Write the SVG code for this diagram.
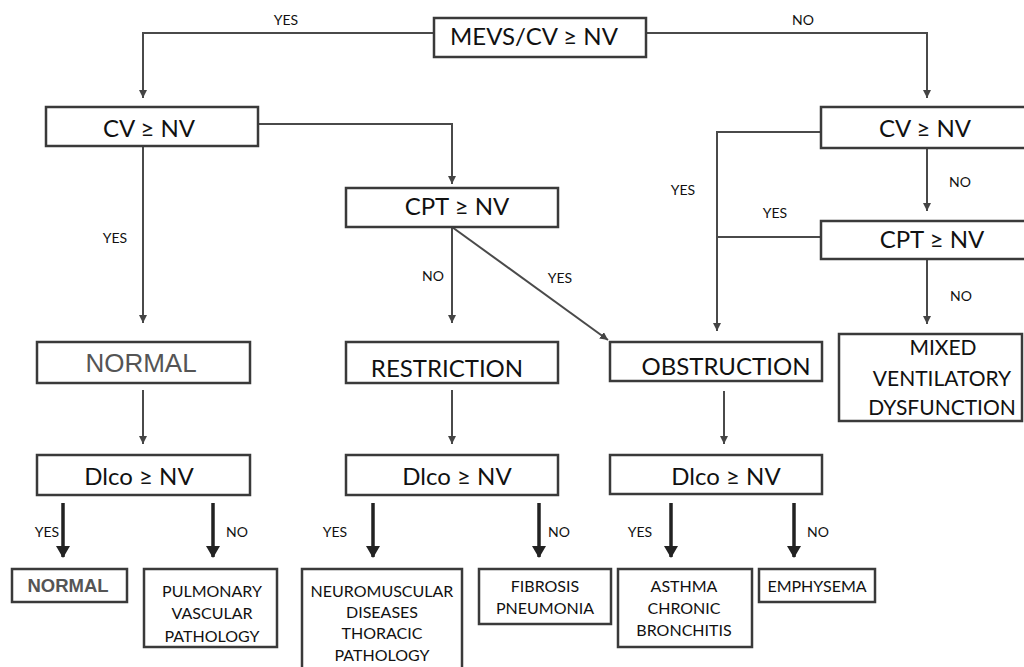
<svg xmlns="http://www.w3.org/2000/svg" width="1024" height="667" viewBox="0 0 1024 667">
<defs>
<marker id="ah" markerUnits="userSpaceOnUse" markerWidth="9" markerHeight="8" refX="8" refY="4" orient="auto"><path d="M0,0 L8,4 L0,8 z" fill="#444"/></marker>
<marker id="ahb" markerUnits="userSpaceOnUse" markerWidth="12" markerHeight="14" refX="11" refY="7" orient="auto"><path d="M0,0 L12,7 L0,14 z" fill="#222"/></marker>
<style>
.box{fill:#fff;stroke:#3a3a3a;stroke-width:2.5}
.ln{fill:none;stroke:#4a4a4a;stroke-width:2}
.arr{marker-end:url(#ah)}
.thick{fill:none;stroke:#222;stroke-width:3.5;marker-end:url(#ahb)}
.t{font-family:Lato,"Open Sans",sans-serif;fill:#111;text-anchor:middle}
.big{font-size:24px}
.sm{font-size:14px}
.bl{font-size:16px}
.ar{font-family:"Liberation Sans",Arial,sans-serif;fill:#555;text-anchor:middle}
</style>
</defs>
<rect width="1024" height="667" fill="#fff"/>
<g id="connectors">
<path class="ln arr" d="M434,33 H143 V98"/>
<path class="ln arr" d="M646,33 H927 V98"/>
<path class="ln arr" d="M143,146 V323"/>
<path class="ln arr" d="M258,124 H452 V184"/>
<path class="ln arr" d="M452,227 V323"/>
<path class="ln arr" d="M452,227 L608,340"/>
<path class="ln arr" d="M821,132 H717 V331"/>
<path class="ln" d="M821,237 H717"/>
<path class="ln arr" d="M927,148 V211"/>
<path class="ln arr" d="M927,259 V324"/>
<path class="ln arr" d="M143,390 V444"/>
<path class="ln arr" d="M452,390 V444"/>
<path class="ln arr" d="M724,391 V444"/>
<path class="thick" d="M63,503 V557"/>
<path class="thick" d="M213,503 V557"/>
<path class="thick" d="M373,503 V557"/>
<path class="thick" d="M539,503 V557"/>
<path class="thick" d="M671,503 V557"/>
<path class="thick" d="M794,503 V557"/>
<text class="t sm" x="286" y="25">YES</text>
<text class="t sm" x="803" y="25">NO</text>
<text class="t sm" x="115" y="243">YES</text>
<text class="t sm" x="433" y="281">NO</text>
<text class="t sm" x="560" y="283">YES</text>
<text class="t sm" x="683" y="195">YES</text>
<text class="t sm" x="775" y="218">YES</text>
<text class="t sm" x="960" y="187">NO</text>
<text class="t sm" x="961" y="301">NO</text>
<text class="t sm" x="47" y="537">YES</text>
<text class="t sm" x="237" y="537">NO</text>
<text class="t sm" x="335" y="537">YES</text>
<text class="t sm" x="559" y="537">NO</text>
<text class="t sm" x="640" y="537">YES</text>
<text class="t sm" x="818" y="537">NO</text>
</g>
<g id="n-mevs"><rect class="box" x="434" y="18" width="212" height="39"/><text class="t big" x="534" y="45">MEVS/CV ≥ NV</text></g>
<g id="n-cv-left"><rect class="box" x="46" y="107" width="212" height="39"/><text class="t big" x="149" y="137">CV ≥ NV</text></g>
<g id="n-cv-right"><rect class="box" x="821" y="107" width="215" height="41"/><text class="t big" x="925" y="137">CV ≥ NV</text></g>
<g id="n-cpt-mid"><rect class="box" x="346" y="188" width="212" height="39"/><text class="t big" x="457" y="215">CPT ≥ NV</text></g>
<g id="n-cpt-right"><rect class="box" x="821" y="221" width="215" height="38"/><text class="t big" x="932" y="248">CPT ≥ NV</text></g>
<g id="n-normal"><rect class="box" x="37" y="342" width="213" height="41"/><text class="ar" x="141" y="372" font-size="26">NORMAL</text></g>
<g id="n-restriction"><rect class="box" x="346" y="342" width="212" height="41"/><text class="t big" x="447" y="377">RESTRICTION</text></g>
<g id="n-obstruction"><rect class="box" x="610" y="342" width="212" height="39"/><text class="t big" x="726" y="375">OBSTRUCTION</text></g>
<g id="n-mixed"><rect class="box" x="839" y="334" width="183" height="87"/><text class="t" x="943" y="355" font-size="21">MIXED</text><text class="t" x="942" y="386" font-size="21">VENTILATORY</text><text class="t" x="942" y="415" font-size="21">DYSFUNCTION</text></g>
<g id="n-dlco-left"><rect class="box" x="37" y="455" width="213" height="40"/><text class="t big" x="139" y="485">Dlco ≥ NV</text></g>
<g id="n-dlco-mid"><rect class="box" x="346" y="455" width="212" height="40"/><text class="t big" x="457" y="485">Dlco ≥ NV</text></g>
<g id="n-dlco-right"><rect class="box" x="610" y="455" width="212" height="39"/><text class="t big" x="726" y="485">Dlco ≥ NV</text></g>
<g id="n-normal2"><rect class="box" x="12" y="569" width="115" height="33"/><text class="ar" x="68" y="592" font-size="18.5" font-weight="bold">NORMAL</text></g>
<g id="n-pulmonary"><rect class="box" x="144" y="569" width="133" height="78"/><text class="t bl" x="212" y="597">PULMONARY</text><text class="t bl" x="212" y="619">VASCULAR</text><text class="t bl" x="212" y="642">PATHOLOGY</text></g>
<g id="n-neuro"><rect class="box" x="302" y="569" width="160" height="110"/><text class="t bl" x="382" y="597">NEUROMUSCULAR</text><text class="t bl" x="382" y="618">DISEASES</text><text class="t bl" x="382" y="639">THORACIC</text><text class="t bl" x="382" y="661">PATHOLOGY</text></g>
<g id="n-fibrosis"><rect class="box" x="479" y="569" width="132" height="55"/><text class="t bl" x="545" y="592">FIBROSIS</text><text class="t bl" x="545" y="614">PNEUMONIA</text></g>
<g id="n-asthma"><rect class="box" x="618" y="569" width="134" height="78"/><text class="t bl" x="684" y="592">ASTHMA</text><text class="t bl" x="684" y="614">CHRONIC</text><text class="t bl" x="684" y="636">BRONCHITIS</text></g>
<g id="n-emphysema"><rect class="box" x="759" y="569" width="116" height="33"/><text class="t bl" x="817" y="592">EMPHYSEMA</text></g>
</svg>
